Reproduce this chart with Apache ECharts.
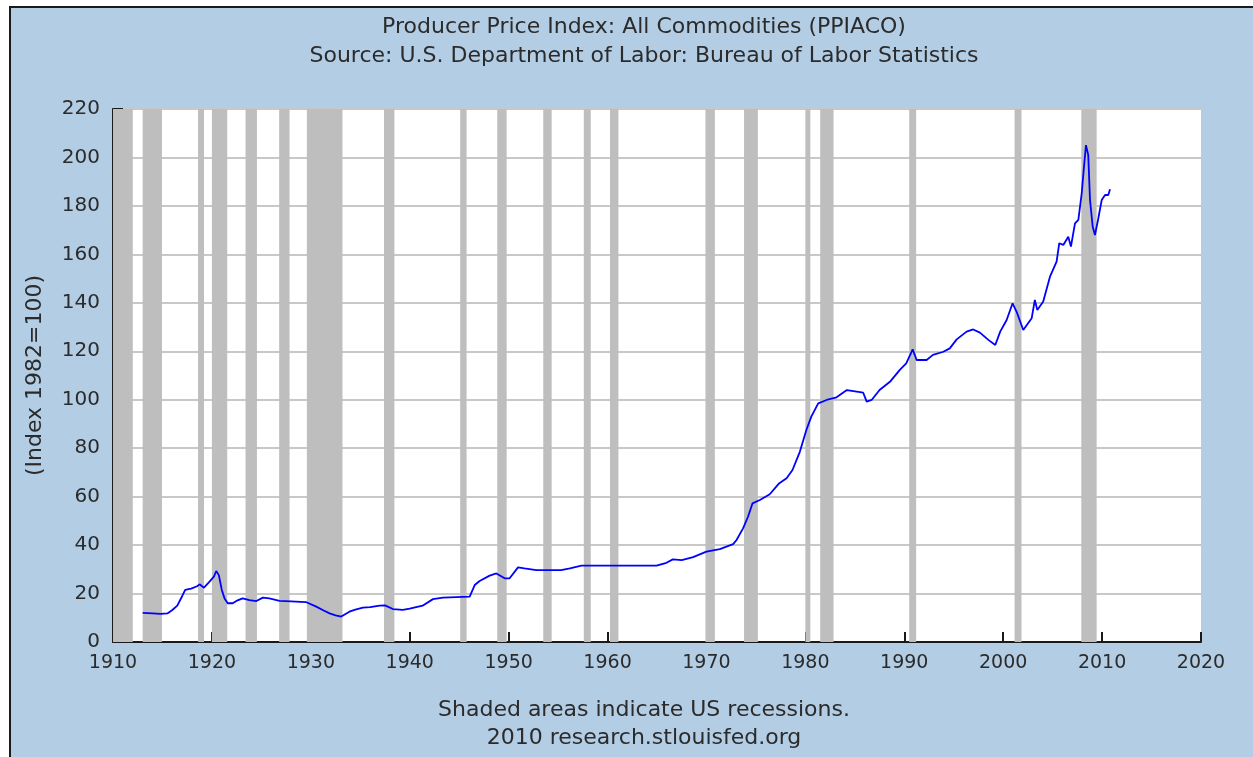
<!DOCTYPE html>
<html>
<head>
<meta charset="utf-8">
<script src="https://cdn.jsdelivr.net/npm/echarts@6/dist/echarts.min.js"></script>
<style>
  html, body { margin: 0; padding: 0; background: #fff; }
  #main { width: 1253px; height: 757px; }
</style>
</head>
<body>
<div id="main"></div>
<script>
// PPIACO (decimal year, index value)
var ppiYears = [
  1913.0, 1913.5, 1914.0, 1914.8, 1915.5, 1916.0, 1916.5, 1917.0, 1917.3, 1917.9,
  1918.5, 1918.75, 1919.2, 1919.76, 1920.2, 1920.44, 1920.7, 1921.0, 1921.28, 1921.6,
  1922.1, 1922.6, 1923.1, 1923.8, 1924.5, 1925.15, 1925.8, 1926.84, 1928.0, 1929.5,
  1930.55, 1931.3, 1931.9, 1932.5, 1933.08, 1933.9, 1934.5, 1935.27, 1936.0, 1936.96,
  1937.5, 1938.3, 1939.3, 1940.0, 1941.3, 1942.35, 1943.36, 1946.06, 1946.57, 1947.07,
  1948.08, 1948.76, 1949.6, 1950.1, 1950.95, 1951.6, 1952.8, 1955.3, 1956.2, 1957.36,
  1959.2, 1964.95, 1965.96, 1966.6, 1967.5, 1968.65, 1970.0, 1971.35, 1972.7, 1973.04,
  1973.7, 1974.2, 1974.65, 1975.4, 1976.4, 1977.3, 1978.1, 1978.7, 1979.44, 1980.1,
  1980.6, 1981.3, 1982.15, 1983.15, 1984.2, 1985.85, 1986.2, 1986.7, 1987.5, 1988.55,
  1989.55, 1990.2, 1990.85, 1991.25, 1992.26, 1992.9, 1993.95, 1994.6, 1995.3, 1996.3,
  1996.97, 1997.65, 1998.5, 1999.2, 1999.7, 2000.35, 2000.95, 2001.36, 2002.03, 2002.88,
  2003.2, 2003.45, 2004.05, 2004.73, 2005.4, 2005.67, 2006.08, 2006.58, 2006.85, 2007.26,
  2007.6, 2007.94, 2008.17, 2008.37, 2008.6, 2008.78, 2009.05, 2009.28, 2009.62, 2009.96,
  2010.3, 2010.63, 2010.8
];
var ppiValues = [
  12.0, 11.9, 11.8, 11.6, 11.8, 13.2, 15.0, 19.0, 21.5, 22.0,
  23.0, 23.8, 22.4, 24.9, 27.0, 29.3, 27.6, 21.5, 18.0, 16.0,
  16.0, 17.2, 18.0, 17.3, 16.9, 18.3, 18.0, 17.0, 16.8, 16.5,
  14.6, 13.0, 11.8, 11.0, 10.5, 12.5, 13.4, 14.2, 14.4, 15.0,
  15.1, 13.6, 13.3, 13.8, 15.0, 17.7, 18.3, 18.7, 23.5, 25.2,
  27.4, 28.3, 26.3, 26.3, 30.8, 30.4, 29.7, 29.7, 30.4, 31.5,
  31.5, 31.5, 32.7, 34.1, 33.8, 35.0, 37.3, 38.3, 40.4, 42.1,
  46.9, 51.7, 57.2, 58.6, 61.0, 65.3, 67.6, 71.0, 78.5, 87.5,
  93.0, 98.5, 99.9, 101.0, 104.0, 102.9, 99.2, 99.9, 104.0, 107.4,
  112.3, 115.0, 120.8, 116.4, 116.4, 118.5, 119.8, 121.2, 124.9, 128.1,
  129.0, 127.7, 124.7, 122.6, 128.1, 132.9, 139.8, 136.3, 128.8, 133.6,
  141.2, 137.0, 140.5, 150.8, 157.0, 164.6, 163.9, 167.3, 163.2, 172.8,
  174.2, 185.2, 196.2, 205.1, 201.0, 182.4, 171.4, 168.0, 174.9, 182.4,
  184.5, 184.5, 186.9
];

// US recessions (NBER), decimal years
var recessionStarts = [1910.0, 1913.0, 1918.6, 1920.0, 1923.4, 1926.8, 1929.6, 1937.4, 1945.1, 1948.85,
  1953.5, 1957.6, 1960.25, 1969.9, 1973.8, 1980.0, 1981.5, 1990.5, 2001.15, 2007.9];
var recessionEnds = [1912.0, 1914.95, 1919.2, 1921.55, 1924.55, 1927.85, 1933.2, 1938.45, 1945.75, 1949.8,
  1954.35, 1958.3, 1961.1, 1970.85, 1975.2, 1980.5, 1982.85, 1991.2, 2001.85, 2009.45];

var xMin = 1910, xMax = 2020, xStep = 10;
var yMin = 0, yMax = 220, yStep = 20;

var labelFont = 'DejaVu Sans';
var textColor = '#2b2b2b';

var lineData = ppiYears.map(function (y, i) { return [y, ppiValues[i]]; });
var bands = recessionStarts.map(function (s, i) {
  return [{ xAxis: s }, { xAxis: recessionEnds[i] }];
});

function caption(text, y) {
  return {
    type: 'text', x: 644, y: y, silent: true,
    style: { text: text, font: '22px ' + labelFont, fill: textColor, align: 'center', verticalAlign: 'middle' }
  };
}

var myChart = echarts.init(document.getElementById('main'));
myChart.setOption({
  backgroundColor: '#ffffff',
  animation: false,
  graphic: [
    {
      type: 'rect', z: -10, silent: true,
      shape: { x: 10, y: 7, width: 1260, height: 770 },
      style: { fill: '#b3cde4', stroke: '#1a1a1a', lineWidth: 2 }
    },
    caption('Producer Price Index: All Commodities (PPIACO)', 27),
    caption('Source: U.S. Department of Labor: Bureau of Labor Statistics', 56),
    caption('Shaded areas indicate US recessions.', 710),
    caption('2010 research.stlouisfed.org', 738)
  ],
  grid: { left: 113, right: 52, top: 109, bottom: 115, backgroundColor: '#ffffff', show: true, borderWidth: 0 },
  xAxis: {
    type: 'value', min: xMin, max: xMax, interval: xStep,
    axisLine: { show: true, onZero: false, lineStyle: { color: '#1a1a1a', width: 2 } },
    axisTick: { show: true, inside: true, length: 10, lineStyle: { color: '#1a1a1a', width: 2 } },
    axisLabel: { color: textColor, fontFamily: labelFont, fontSize: 19, margin: 12, formatter: function (v) { return String(v); } },
    splitLine: { show: false }
  },
  yAxis: {
    type: 'value', min: yMin, max: yMax, interval: yStep,
    name: '(Index 1982=100)', nameLocation: 'middle', nameGap: 67, nameRotate: 90,
    nameTextStyle: { color: textColor, fontFamily: labelFont, fontSize: 22 },
    axisLine: { show: true, lineStyle: { color: '#1a1a1a', width: 2 } },
    axisTick: { show: true, inside: true, length: 10, lineStyle: { color: '#1a1a1a', width: 2 } },
    axisLabel: { color: textColor, fontFamily: labelFont, fontSize: 20, margin: 13 },
    splitLine: { show: true, lineStyle: { color: '#c8c8c8', width: 2 } }
  },
  series: [
    {
      type: 'line',
      data: lineData,
      symbol: 'none',
      lineStyle: { color: '#0000ff', width: 1.8 },
      z: 5,
      markArea: {
        silent: true,
        itemStyle: { color: '#bebebe', opacity: 1 },
        data: bands
      }
    }
  ]
});
</script>
</body>
</html>
